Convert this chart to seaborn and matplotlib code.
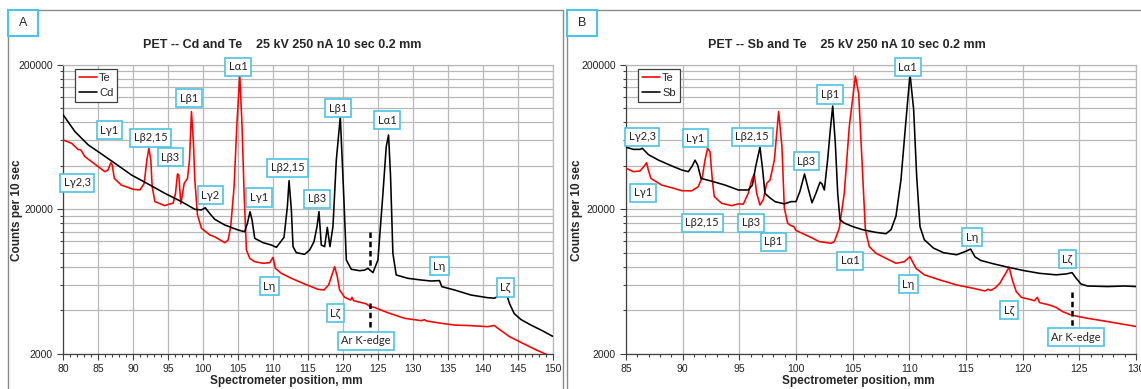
import matplotlib.pyplot as plt
import matplotlib.ticker as mticker
from matplotlib.patches import Rectangle
import seaborn as sns

# ---- Panel A: PET, Cd and Te ----
a_te_x = [80.0, 81.2, 82.1, 82.5, 83.1, 85.0, 85.95, 86.4, 86.8, 87.0, 87.3, 88.3, 90.0, 90.95,
          91.57, 91.95, 92.24, 92.52, 92.71, 93.1, 94.52, 95.24, 95.71, 96.05, 96.33, 96.52,
          96.81, 97.29, 97.76, 98.05, 98.33, 98.62, 98.81, 99.19, 99.76, 100.95, 101.67, 103.1,
          103.57, 103.95, 104.43, 104.81, 105.24, 105.57, 105.86, 106.19, 106.67, 107.38, 108.57,
          109.52, 110.0, 110.33, 111.19, 112.62, 114.52, 116.43, 117.29, 117.95, 118.81, 119.19,
          119.52, 120.24, 121.1, 121.29, 121.52, 122.4, 123.3, 123.9, 124.5, 126.4, 128.8, 131.2,
          131.67, 132.0, 134.05, 136.0, 138.3, 140.7, 141.67, 142.0, 143.8, 145.5, 147.5, 149.5]
a_te_y = [60300, 57100, 51900, 51400, 46200, 39400, 36400, 37400, 42000, 40500, 32700, 29400,
          27500, 27200, 30200, 43800, 52800, 43800, 28700, 22600, 21200, 21800, 22000, 25800,
          35100, 34500, 21800, 30200, 32700, 43800, 94600, 57100, 31900, 18300, 14800, 13300,
          12900, 11750, 12270, 15200, 28700, 74500, 169500, 74500, 25800, 10470, 9160, 8690,
          8470, 8550, 9310, 7820, 7220, 6670, 6090, 5600, 5540, 6000, 8020, 6850, 5540, 4930,
          4720, 4930, 4670, 4560, 4450, 4250, 4200, 3860, 3530, 3400, 3450, 3380, 3260, 3170,
          3140, 3090, 3150, 3050, 2640, 2400, 2150, 1950]

a_cd_x = [80.0, 81.67, 83.57, 85.0, 87.38, 89.76, 92.14, 94.52, 96.9, 98.81, 99.76, 100.3, 100.95,
          101.67, 103.1, 105.0, 105.95, 106.33, 106.71, 107.0, 107.38, 108.57, 109.76, 110.48,
          111.1, 111.57, 112.05, 112.29, 112.62, 112.86, 113.33, 114.52, 115.24, 115.86, 116.29,
          116.57, 116.9, 117.38, 117.76, 118.14, 118.57, 119.05, 119.62, 120.14, 120.48, 121.19,
          122.38, 123.1, 123.57, 124.29, 125.0, 125.72, 126.19, 126.52, 126.81, 127.14, 127.62,
          129.29, 131.2, 132.62, 133.81, 134.14, 135.95, 138.33, 140.7, 141.67, 142.5, 143.1,
          143.5, 143.81, 144.5, 145.5, 147.0, 148.5, 150.0]
a_cd_y = [89700, 68800, 55700, 50000, 41600, 34500, 29900, 25800, 22600, 20000, 19800, 20500,
          18700, 17050, 15580, 14390, 14000, 16000, 19250, 16870, 12600, 11760, 11330, 10920,
          11950, 12800, 20860, 31550, 19800, 11040, 10030, 9770, 10470, 11950, 15200, 19270,
          11330, 11040, 15000, 11040, 15200, 43800, 87300, 23200, 8930, 7700, 7530, 7600, 7820,
          7300, 8930, 25800, 54200, 65300, 33600, 9930, 7030, 6670, 6490, 6390, 6430, 5840,
          5540, 5110, 4900, 4860, 5100, 5600, 5000, 4480, 3800, 3450, 3150, 2900, 2650]

a_labels = ['L\u03b32,3', 'L\u03b31', 'L\u03b22,15', 'L\u03b23', 'L\u03b21', 'L\u03b11', 'L\u03b32',
            'L\u03b31', 'L\u03b22,15', 'L\u03b23', 'L\u03b21', 'L\u03b11', 'L\u03b7', 'L\u03b6',
            'L\u03b7', 'L\u03b6', 'Ar K-edge']
a_label_x = [82.0, 86.6, 92.5, 95.3, 98.0, 105.0, 101.0, 108.0, 112.1, 116.3, 119.3, 126.3,
             109.5, 118.9, 133.8, 143.2, 123.3]
a_label_y = [30500, 70600, 62200, 45700, 117000, 193500, 25100, 24130, 38700, 23650, 99800,
             82400, 5900, 3840, 8070, 5760, 2460]
a_kedge_x = 123.8
a_kedge_spans = [(14000, 8000), (4480, 2850)]

# ---- Panel B: PET, Sb and Te ----
b_te_x = [85.0, 85.65, 86.24, 86.62, 86.82, 86.97, 87.2, 88.15, 89.03, 89.9, 90.79, 91.38, 91.74,
          91.97, 92.2, 92.41, 92.62, 92.79, 93.44, 94.32, 94.9, 95.35, 95.79, 96.09, 96.32,
          96.53, 96.82, 97.12, 97.41, 97.71, 98.09, 98.47, 98.76, 98.97, 99.26, 99.5, 99.8,
          100.0, 101.18, 102.06, 103.09, 103.38, 103.82, 104.26, 104.7, 105.24, 105.53, 105.82,
          106.12, 106.47, 107.06, 107.94, 108.82, 109.56, 110.05, 110.59, 111.32, 112.72,
          114.18, 115.64, 116.67, 116.96, 117.2, 117.6, 117.98, 118.5, 118.8, 119.09, 119.44,
          119.88, 120.61, 121.05, 121.29, 121.49, 122.37, 122.95, 123.54, 124.27, 125.0,
          125.73, 127.5, 130.0]
b_te_y = [38400, 36400, 36800, 39900, 42000, 37400, 32700, 29400, 28200, 26900, 26800, 28700,
          33600, 43800, 52800, 50000, 31900, 24460, 22000, 21200, 21800, 21700, 25800, 31900,
          35100, 25800, 21400, 23400, 30200, 31900, 43800, 94600, 54200, 20400, 16060, 15500,
          15200, 14300, 12940, 11960, 11640, 11960, 14800, 25800, 74500, 167000, 126000, 43800,
          14400, 11040, 9930, 9170, 8470, 8690, 9400, 7820, 7050, 6490, 6000, 5690, 5450, 5600,
          5500, 5750, 6160, 7220, 7970, 6490, 5390, 4930, 4770, 4670, 4930, 4530, 4360, 4200,
          3920, 3720, 3620, 3530, 3350, 3100]

b_sb_x = [85.0, 85.65, 86.24, 86.44, 86.97, 87.85, 89.03, 89.91, 90.5, 90.85, 91.09, 91.32, 91.62,
          92.56, 93.74, 94.91, 95.79, 96.15, 96.44, 96.82, 97.06, 97.26, 97.71, 98.15, 98.97,
          99.56, 100.0, 100.35, 100.75, 101.03, 101.41, 101.76, 102.12, 102.29, 102.5, 102.79,
          103.03, 103.24, 103.47, 103.68, 103.88, 104.26, 105.0, 105.88, 107.06, 107.94, 108.38,
          108.82, 109.26, 109.71, 110.06, 110.38, 110.65, 110.94, 111.32, 112.13, 113.01, 114.18,
          114.91, 115.41, 115.79, 116.29, 117.4, 118.57, 120.03, 121.49, 122.95, 123.83, 124.36,
          124.71, 125.15, 125.73, 127.5, 129.0, 130.0]
b_sb_y = [53700, 51900, 51900, 52800, 47800, 43800, 39900, 37400, 36400, 39900, 43700, 40500,
          32700, 31300, 29400, 27200, 27200, 29400, 39400, 53700, 37400, 25800, 23960, 22600,
          21800, 22600, 22600, 26640, 35100, 28700, 22200, 25800, 30800, 30000, 27200, 43800,
          71300, 103500, 57100, 25800, 16970, 16060, 15200, 14450, 13850, 13560, 14450, 17900,
          31900, 83600, 171600, 98000, 33600, 15200, 12330, 10790, 10030, 9700, 10200, 10620,
          9400, 8870, 8410, 8000, 7560, 7220, 7050, 7150, 7300, 6690, 6090, 5900, 5850, 5900,
          5850]

b_labels = ['L\u03b32,3', 'L\u03b31', 'L\u03b22,15', 'L\u03b31', 'L\u03b22,15', 'L\u03b23',
            'L\u03b21', 'L\u03b23', 'L\u03b21', 'L\u03b11', 'L\u03b11', 'L\u03b7', 'L\u03b7',
            'L\u03b6', 'L\u03b6', 'Ar K-edge']
b_label_x = [86.43, 91.13, 96.13, 86.5, 91.72, 96.03, 98.0, 100.91, 102.99, 109.85, 104.79,
             109.91, 115.53, 123.95, 118.79, 124.7]
b_label_y = [63200, 62000, 63200, 25930, 16170, 16170, 11940, 43000, 124200, 192400, 8830,
             6090, 12810, 9030, 4010, 2620]
b_kedge_x = 124.36
b_kedge_spans = [(5390, 3090)]

y_major = [2000, 20000, 200000]
y_minor = [2000 * k for k in range(2, 10)] + [20000 * k for k in range(2, 10)]

sns.set_style('ticks')
plt.rcParams['font.family'] = ['Liberation Sans', 'DejaVu Sans']
label_font = ['Lato', 'DejaVu Sans']
cyan = '#4cc4e4'
grid = '#b8b8b8'

W, H = 1141, 389
fig = plt.figure(figsize=(W / 100, H / 100), dpi=100)


def fx(px):
    return px / W


def fy(py):
    return 1 - py / H


def panel(ax, te_x, te_y, other_x, other_y, other_name, xlim,
          labels, lab_x, lab_y, kedge_x, kedge_spans):
    sns.lineplot(x=te_x, y=te_y, ax=ax, color='red', lw=1.15, label='Te',
                 sort=False, estimator=None, zorder=3)
    sns.lineplot(x=other_x, y=other_y, ax=ax, color='black', lw=1.15, label=other_name,
                 sort=False, estimator=None, zorder=3)
    ax.set_yscale('log')
    ax.set_ylim(2000, 200000)
    ax.set_xlim(*xlim)
    ax.yaxis.set_major_locator(mticker.FixedLocator(y_major))
    ax.yaxis.set_minor_locator(mticker.FixedLocator(y_minor))
    ax.yaxis.set_major_formatter(mticker.FuncFormatter(lambda v, p: f'{v:.0f}'))
    ax.yaxis.set_minor_formatter(mticker.NullFormatter())
    ax.xaxis.set_major_locator(mticker.MultipleLocator(5))
    ax.xaxis.set_minor_locator(mticker.MultipleLocator(1))
    ax.grid(which='major', axis='x', color=grid, lw=0.9)
    ax.grid(which='both', axis='y', color=grid, lw=0.9)
    ax.set_axisbelow(True)
    ax.tick_params(which='major', direction='out', length=4, width=0.8,
                   labelsize=7.5, colors='#404040', labelcolor='#222222')
    ax.tick_params(which='minor', direction='out', length=2.5, width=0.8, colors='#404040')
    for s in ['left', 'bottom']:
        ax.spines[s].set_color('#404040')
        ax.spines[s].set_linewidth(0.9)
    for s in ['top', 'right']:
        ax.spines[s].set_color(grid)
        ax.spines[s].set_linewidth(0.9)
    ax.set_xlabel('')
    ax.set_ylabel('')

    for y0, y1 in kedge_spans:
        ax.plot([kedge_x, kedge_x], [y0, y1], color='black', lw=1.8,
                ls=(0, (2.2, 1.5)), zorder=4)

    for t, x, y in zip(labels, lab_x, lab_y):
        ax.text(x, y, t, ha='center', va='center', fontsize=8, family=label_font,
                color='#222222', zorder=6,
                bbox=dict(boxstyle='square,pad=0.32', fc='white', ec=cyan, lw=1.2))

    leg = ax.legend(loc='upper left', bbox_to_anchor=(0.024, 0.985), fontsize=8,
                    frameon=True, fancybox=False, framealpha=1, edgecolor='#404040',
                    handlelength=1.6, handletextpad=0.2, borderpad=0.35,
                    labelspacing=0.45, borderaxespad=0)
    leg.get_frame().set_linewidth(0.9)


ax_a = fig.add_axes([fx(63.3), fy(354), fx(489.4), 289.4 / H])
ax_b = fig.add_axes([fx(626), fy(354), fx(510), 289.4 / H])

panel(ax_a, a_te_x, a_te_y, a_cd_x, a_cd_y, 'Cd', (80, 150),
      a_labels, a_label_x, a_label_y, a_kedge_x, a_kedge_spans)
panel(ax_b, b_te_x, b_te_y, b_sb_x, b_sb_y, 'Sb', (85, 130),
      b_labels, b_label_x, b_label_y, b_kedge_x, b_kedge_spans)

# titles and axis labels (positioned like the Excel chart areas)
fig.text(fx(282), fy(45), 'PET -- Cd and Te    25 kV 250 nA 10 sec 0.2 mm',
         ha='center', va='center', fontsize=9, fontweight='bold')
fig.text(fx(847), fy(45), 'PET -- Sb and Te    25 kV 250 nA 10 sec 0.2 mm',
         ha='center', va='center', fontsize=9, fontweight='bold')
for xl in [286, 858]:
    fig.text(fx(xl), fy(381), 'Spectrometer position, mm', ha='center', va='center',
             fontsize=8.5, fontweight='bold')
for yl in [17, 577]:
    fig.text(fx(yl), fy(210), 'Counts per 10 sec', ha='center', va='center',
             rotation=90, fontsize=8.5, fontweight='bold')

# panel frames and letter boxes
fig.patches.append(Rectangle((fx(8), -0.02), fx(555), fy(10) + 0.02, transform=fig.transFigure,
                             fill=False, ec='#8a8a8a', lw=1.0))
fig.patches.append(Rectangle((fx(567), -0.02), fx(600), fy(10) + 0.02, transform=fig.transFigure,
                             fill=False, ec='#8a8a8a', lw=1.0))
for letter, x0 in [('A', 8), ('B', 567)]:
    fig.patches.append(Rectangle((fx(x0), fy(36)), fx(30), 26 / H, transform=fig.transFigure,
                                 fc='white', ec=cyan, lw=1.5))
    fig.text(fx(x0 + 15), fy(23), letter, ha='center', va='center', fontsize=9)

fig.savefig('out.png', dpi=100)
